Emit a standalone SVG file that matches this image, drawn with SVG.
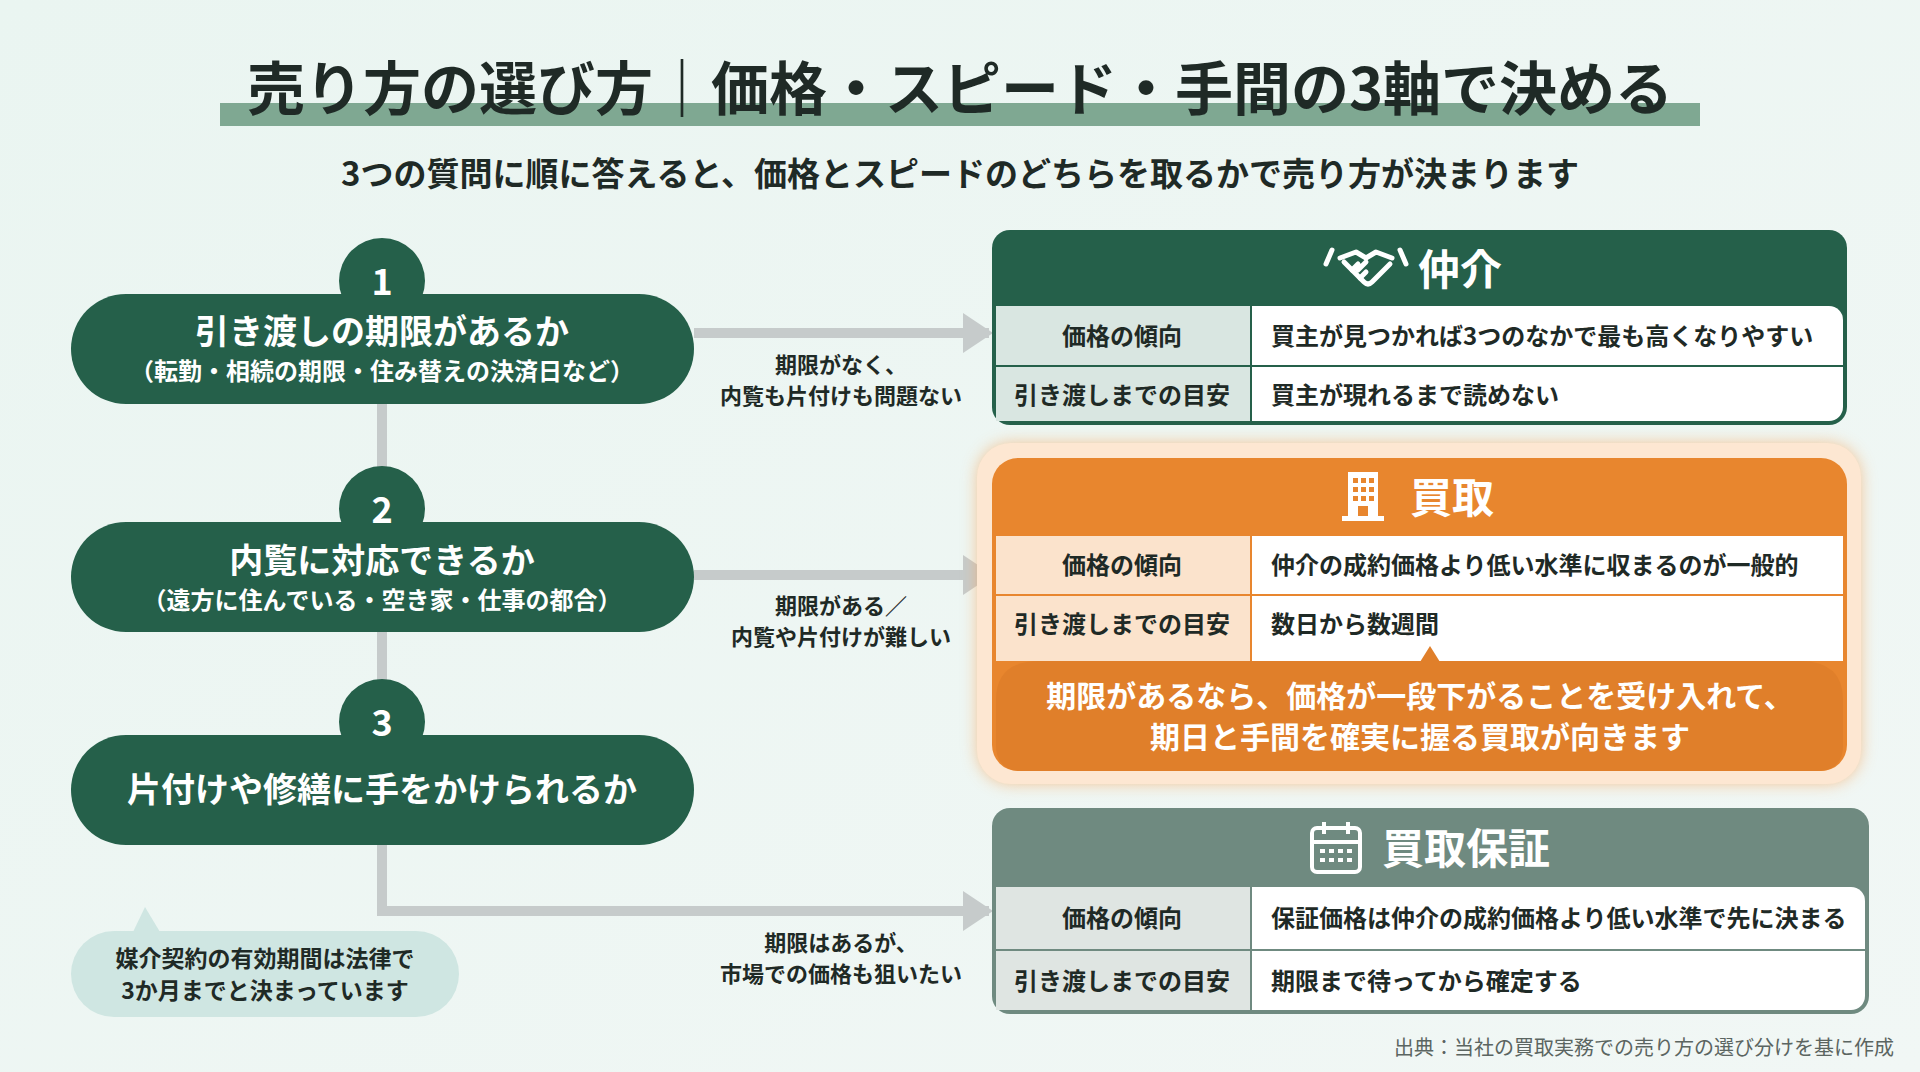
<svg xmlns="http://www.w3.org/2000/svg" width="1920" height="1072" viewBox="0 0 1920 1072">
<defs>
<linearGradient id="bg" x1="0" y1="0" x2="1" y2="1"><stop offset="0" stop-color="#eaf5f1"/><stop offset="1" stop-color="#f1f7f5"/></linearGradient>
<marker id="ah" viewBox="0 0 30 40" markerWidth="30" markerHeight="40" refX="26" refY="20" orient="auto" markerUnits="userSpaceOnUse"><path d="M0,0 L30,20 L0,40 Z" fill="#c6cbcb"/></marker>
<filter id="glow" x="-10%" y="-10%" width="120%" height="120%"><feGaussianBlur stdDeviation="8"/></filter>
</defs>
<style>
text{font-family:"Noto Sans CJK JP","Noto Sans",sans-serif;font-weight:700}
.w{fill:#fff}.d{fill:#1f2a26}
.pill{fill:#25604a}
.ttl{font-size:34px;text-anchor:middle}
.sub{font-size:24px;text-anchor:middle}
.lbl{font-size:22px;text-anchor:middle;fill:#1f2a26}
.cell{font-size:24px;fill:#1f2a26}
.cellc{font-size:24px;fill:#1f2a26;text-anchor:middle}
.conn{stroke:#c6cbcb;stroke-width:10;fill:none}
</style>
<rect width="1920" height="1072" fill="url(#bg)"/>
<rect x="220" y="103" width="1480" height="23" fill="#7fa892"/>
<text x="960" y="110" font-size="58" text-anchor="middle" class="d">売り方の選び方｜価格・スピード・手間の3軸で決める</text>
<text x="960" y="186" font-size="33" text-anchor="middle" class="d">3つの質問に順に答えると、価格とスピードのどちらを取るかで売り方が決まります</text>

<g id="connectors">
<path class="conn" d="M382,400 V911 H989" marker-end="url(#ah)"/>
<path class="conn" d="M694,333 H989" marker-end="url(#ah)"/>
<path class="conn" d="M694,575 H989" marker-end="url(#ah)"/>
<text class="lbl" x="841" y="373">期限がなく、</text>
<text class="lbl" x="841" y="404">内覧も片付けも問題ない</text>
<text class="lbl" x="841" y="614">期限がある／</text>
<text class="lbl" x="841" y="645">内覧や片付けが難しい</text>
<text class="lbl" x="841" y="951">期限はあるが、</text>
<text class="lbl" x="841" y="982">市場での価格も狙いたい</text>
</g>

<g id="q1">
<circle cx="382" cy="281" r="43" class="pill"/>
<rect x="71" y="294" width="623" height="110" rx="55" class="pill"/>
<text x="382" y="295" font-size="36" text-anchor="middle" class="w">1</text>
<text x="382" y="344" class="ttl w">引き渡しの期限があるか</text>
<text x="382" y="380" class="sub w">（転勤・相続の期限・住み替えの決済日など）</text>
</g>
<g id="q2">
<circle cx="382" cy="509" r="43" class="pill"/>
<rect x="71" y="522" width="623" height="110" rx="55" class="pill"/>
<text x="382" y="523" font-size="36" text-anchor="middle" class="w">2</text>
<text x="382" y="573" class="ttl w">内覧に対応できるか</text>
<text x="382" y="609" class="sub w">（遠方に住んでいる・空き家・仕事の都合）</text>
</g>
<g id="q3">
<circle cx="382" cy="722" r="43" class="pill"/>
<rect x="71" y="735" width="623" height="110" rx="55" class="pill"/>
<text x="382" y="736" font-size="36" text-anchor="middle" class="w">3</text>
<text x="382" y="802" class="ttl w">片付けや修繕に手をかけられるか</text>
</g>

<g id="note">
<path d="M133,932 L145,907 L160,932 Z" fill="#cfe6e2"/>
<rect x="71" y="931" width="388" height="86" rx="43" fill="#cfe6e2"/>
<text x="265" y="967" font-size="23" text-anchor="middle" class="d">媒介契約の有効期間は法律で</text>
<text x="265" y="999" font-size="23" text-anchor="middle" class="d">3か月までと決まっています</text>
</g>

<g id="chukai">
<rect x="992" y="230" width="855" height="195" rx="18" fill="#25604a"/>
<rect x="996" y="306" width="847" height="115" rx="14" fill="#fff"/>
<rect x="996" y="306" width="255" height="115" fill="#d9e6e1"/>
<path d="M996,366 H1843 M1251,306 V421" stroke="#25604a" stroke-width="2"/>
<g fill="none" stroke="#fff" stroke-width="5" stroke-linejoin="round" stroke-linecap="round">
<path d="M1340,258 l16,-6 l10,6 l10,-6 l16,6"/>
<path d="M1344,262 l20,20 q4,4 8,0 l18,-18"/>
<path d="M1352,270 l6,-6 M1360,278 l6,-6 M1366,262 l-8,8"/>
<path d="M1332,250 l-6,14 M1400,250 l6,14"/>
</g>
<text x="1460" y="285" font-size="42" text-anchor="middle" class="w">仲介</text>
<text class="cellc" x="1122" y="345">価格の傾向</text>
<text class="cellc" x="1122" y="404">引き渡しまでの目安</text>
<text class="cell" x="1271" y="345">買主が見つかれば3つのなかで最も高くなりやすい</text>
<text class="cell" x="1271" y="404">買主が現れるまで読めない</text>
</g>

<g id="kaitori">
<rect x="977" y="443" width="884" height="341" rx="34" fill="#f6a45a" opacity="0.6" filter="url(#glow)"/>
<rect x="977" y="443" width="884" height="341" rx="34" fill="#fde7d2"/>
<rect x="992" y="458" width="855" height="313" rx="26" fill="#e8862e"/>
<rect x="996" y="536" width="847" height="125" fill="#fff"/>
<rect x="996" y="536" width="255" height="125" fill="#fbe3cc"/>
<path d="M996,595 H1843 M1251,536 V661" stroke="#e8862e" stroke-width="2"/>
<g fill="#fff">
<rect x="1348" y="472" width="30" height="46"/>
<rect x="1342" y="516" width="42" height="5"/>
<g fill="#e8862e"><rect x="1353" y="478" width="5" height="5"/><rect x="1361" y="478" width="5" height="5"/><rect x="1369" y="478" width="5" height="5"/><rect x="1353" y="487" width="5" height="5"/><rect x="1361" y="487" width="5" height="5"/><rect x="1369" y="487" width="5" height="5"/><rect x="1353" y="496" width="5" height="5"/><rect x="1361" y="496" width="5" height="5"/><rect x="1369" y="496" width="5" height="5"/><rect x="1358" y="506" width="10" height="10"/></g>
</g>
<text x="1452" y="513" font-size="42" text-anchor="middle" class="w">買取</text>
<text class="cellc" x="1122" y="574">価格の傾向</text>
<text class="cellc" x="1122" y="633">引き渡しまでの目安</text>
<text class="cell" x="1271" y="574">仲介の成約価格より低い水準に収まるのが一般的</text>
<text class="cell" x="1271" y="633">数日から数週間</text>
<path d="M1420,662 L1430,646 L1440,662 Z" fill="#e07f2a"/>
<path d="M996,700 Q996,661 1040,661 H1800 Q1843,661 1843,700 V745 Q1843,771 1817,771 H1022 Q996,771 996,745 Z" fill="#e07f2a"/>
<text x="1420" y="707" font-size="30" text-anchor="middle" class="w">期限があるなら、価格が一段下がることを受け入れて、</text>
<text x="1420" y="748" font-size="30" text-anchor="middle" class="w">期日と手間を確実に握る買取が向きます</text>
</g>

<g id="hosho">
<rect x="992" y="808" width="877" height="206" rx="18" fill="#6f8a80"/>
<rect x="996" y="887" width="869" height="123" rx="14" fill="#fff"/>
<rect x="996" y="887" width="255" height="123" fill="#dfe5e2"/>
<path d="M996,950 H1865 M1251,887 V1010" stroke="#6f8a80" stroke-width="2"/>
<g fill="none" stroke="#fff" stroke-width="4">
<rect x="1312" y="828" width="48" height="44" rx="5"/>
<path d="M1312,842 H1360 M1324,822 V834 M1348,822 V834"/>
</g>
<g fill="#fff"><rect x="1320" y="849" width="5" height="4"/><rect x="1329" y="849" width="5" height="4"/><rect x="1338" y="849" width="5" height="4"/><rect x="1347" y="849" width="5" height="4"/><rect x="1320" y="858" width="5" height="4"/><rect x="1329" y="858" width="5" height="4"/><rect x="1338" y="858" width="5" height="4"/><rect x="1347" y="858" width="5" height="4"/></g>
<text x="1466" y="864" font-size="42" text-anchor="middle" class="w">買取保証</text>
<text class="cellc" x="1122" y="927">価格の傾向</text>
<text class="cellc" x="1122" y="990">引き渡しまでの目安</text>
<text class="cell" x="1271" y="927">保証価格は仲介の成約価格より低い水準で先に決まる</text>
<text class="cell" x="1271" y="990">期限まで待ってから確定する</text>
</g>

<text x="1894" y="1055" font-size="20" text-anchor="end" fill="#5b6561" style="font-weight:400">出典：当社の買取実務での売り方の選び分けを基に作成</text>
</svg>
